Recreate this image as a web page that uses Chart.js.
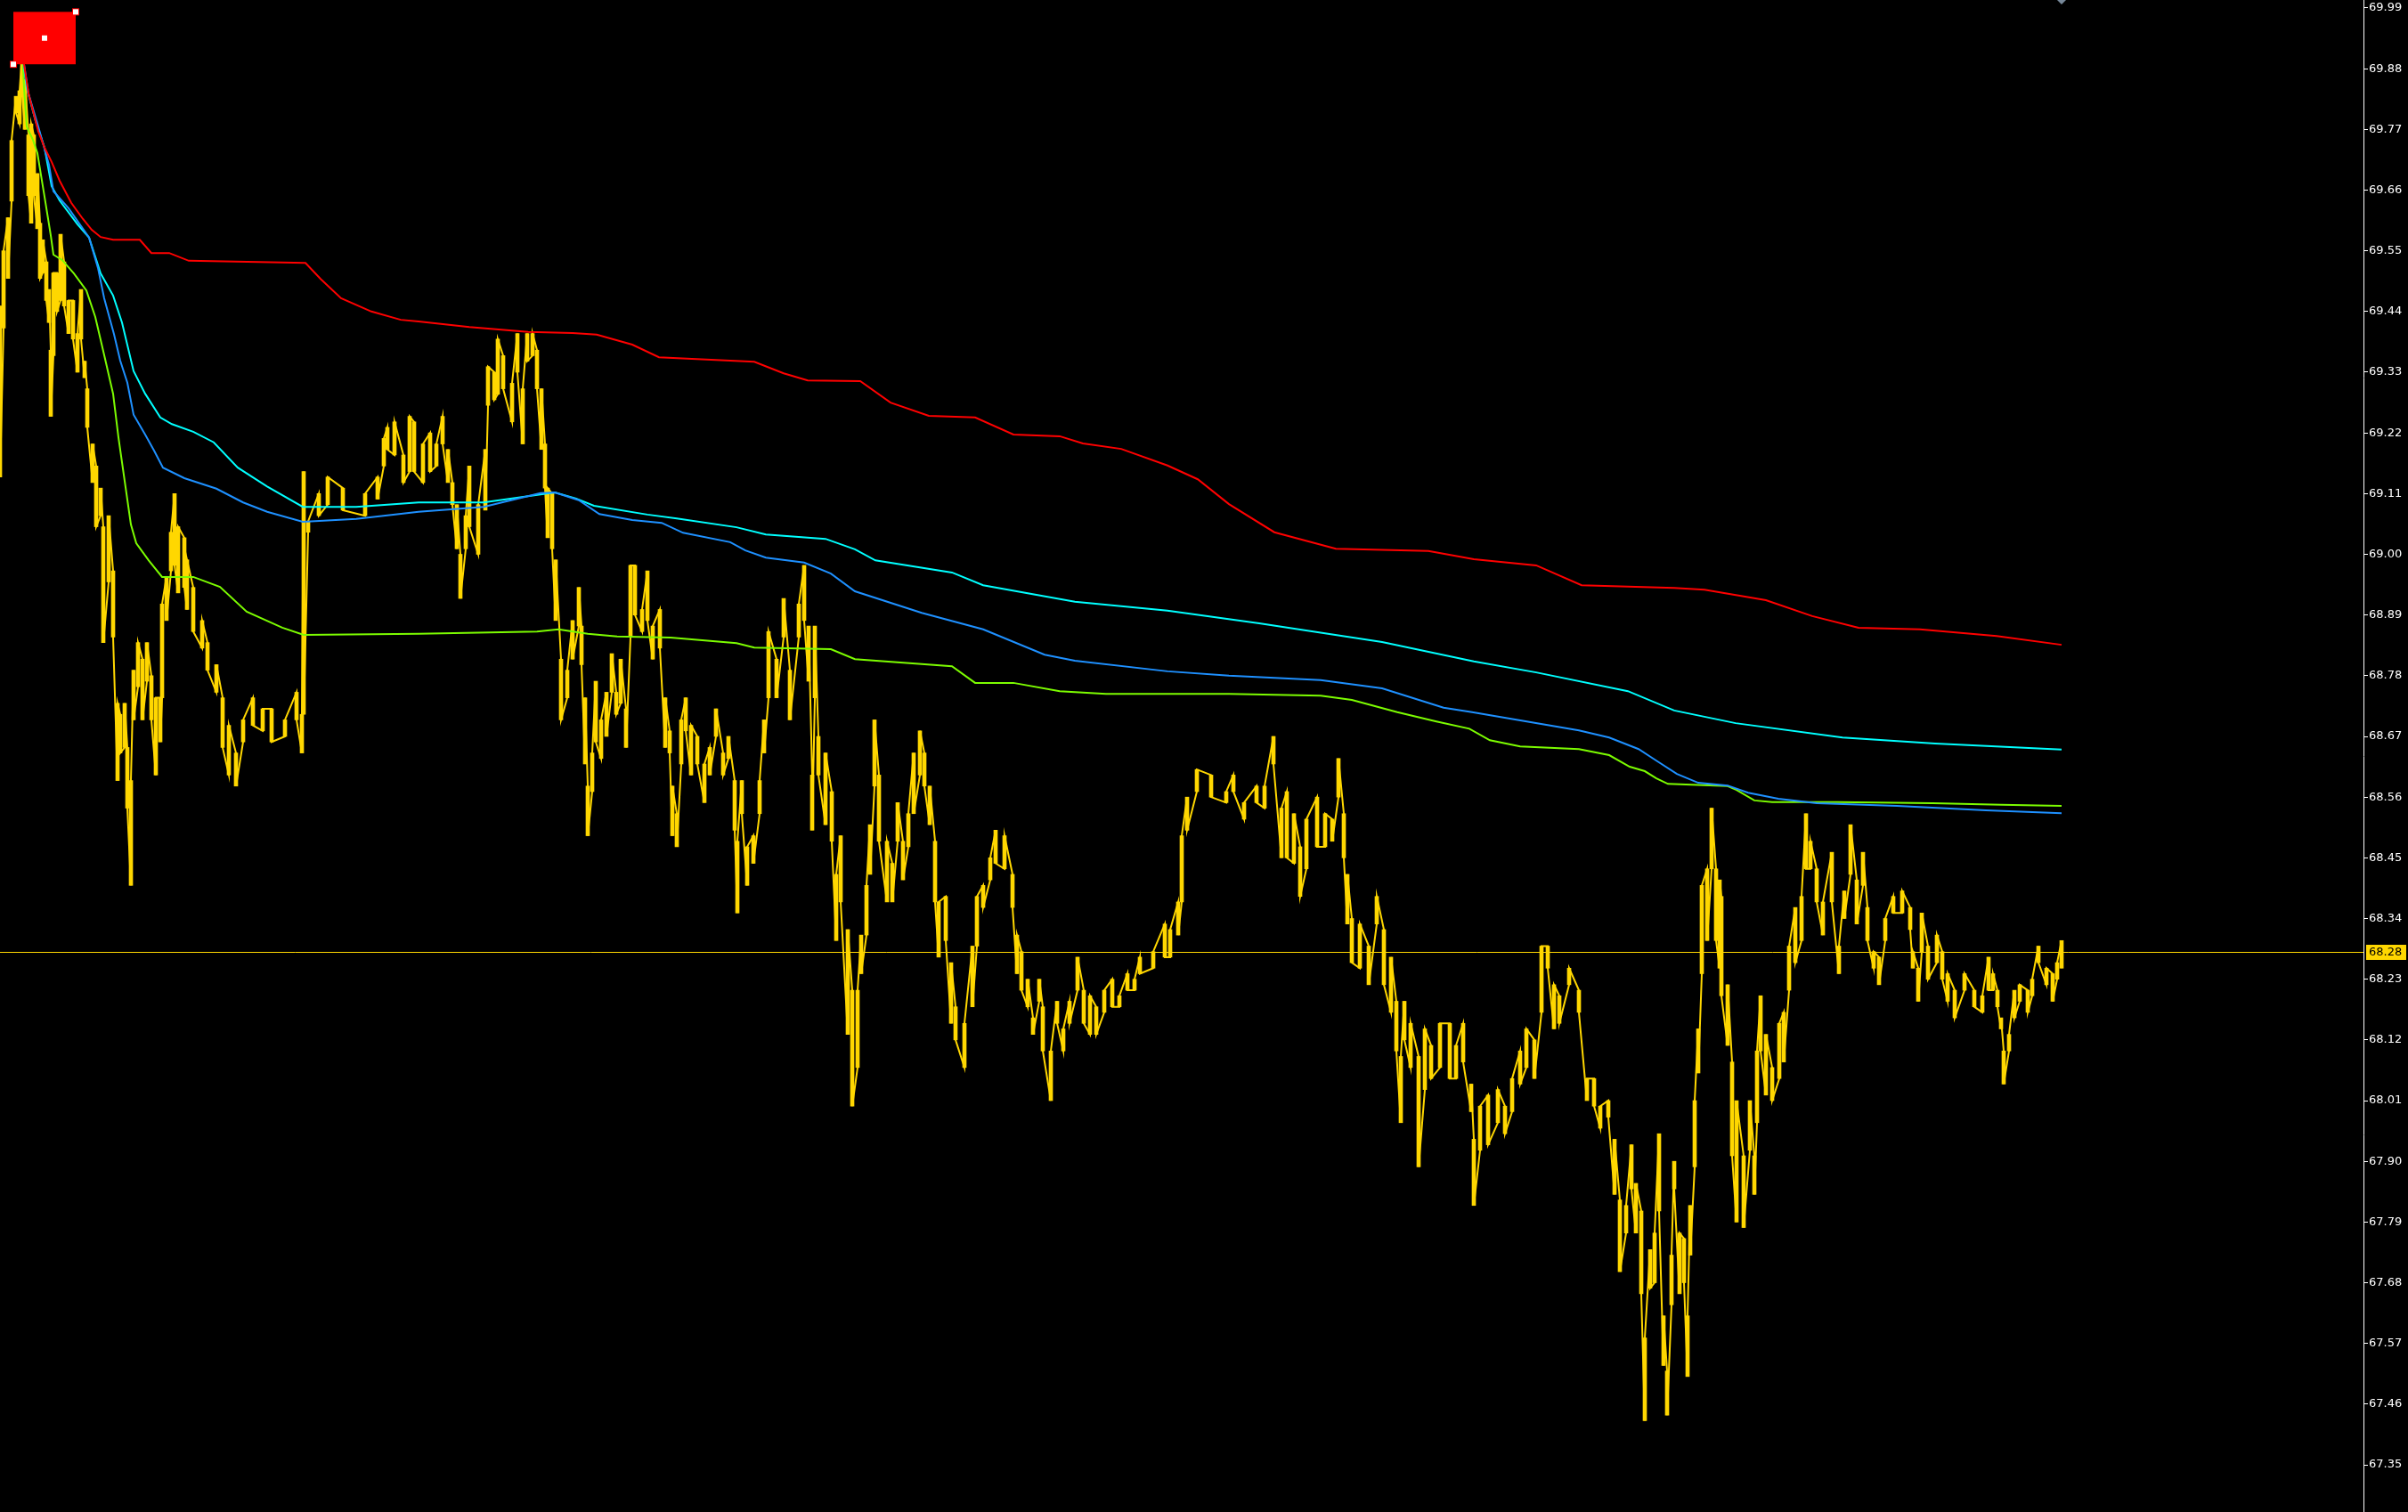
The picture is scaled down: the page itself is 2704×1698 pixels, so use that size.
<!DOCTYPE html>
<html>
<head>
<meta charset="utf-8">
<script src="https://cdn.jsdelivr.net/npm/chart.js@4.4.1/dist/chart.umd.min.js"></script>
<style>
  html, body { margin: 0; padding: 0; background: #000; }
  #wrap { width: 2704px; height: 1698px; position: relative; }
</style>
</head>
<body>
<div id="wrap"><canvas id="myChart"></canvas></div>
<script>
// price bars: [bar number, high, low]
const priceRanges = [
  [0,69.45,69.14],[4,69.55,69.41],[9,69.61,69.50],[13,69.75,69.64],[18,69.83,69.80],[22,69.84,69.78],[25,69.91,69.83],[28,69.86,69.77],[32,69.76,69.65],[35,69.78,69.60],
  [38,69.76,69.65],[42,69.69,69.59],[45,69.60,69.50],[48,69.57,69.51],[52,69.53,69.46],[55,69.48,69.42],[57,69.37,69.25],[60,69.51,69.36],[64,69.51,69.44],[68,69.58,69.46],
  [72,69.53,69.45],[77,69.46,69.40],[82,69.46,69.39],[87,69.40,69.33],[91,69.48,69.39],[95,69.35,69.32],[98,69.30,69.23],[104,69.20,69.13],[108,69.16,69.05],[113,69.12,69.07],
  [116,69.05,68.84],[122,69.07,68.95],[127,68.97,68.85],[132,68.73,68.59],[135,68.71,68.64],[140,68.73,68.65],[143,68.65,68.54],[147,68.59,68.40],[150,68.79,68.70],[155,68.84,68.76],
  [160,68.81,68.70],[165,68.84,68.77],[170,68.78,68.70],[175,68.74,68.60],[180,68.74,68.66],[182,68.91,68.74],[187,68.96,68.88],[192,69.04,68.97],[196,69.11,68.98],[200,69.05,68.93],
  [207,69.03,68.94],[210,68.99,68.90],[217,68.94,68.86],[227,68.88,68.83],[233,68.84,68.79],[243,68.80,68.75],[250,68.74,68.65],[257,68.69,68.60],[265,68.64,68.58],[273,68.70,68.66],
  [284,68.74,68.69],[295,68.72,68.68],[305,68.72,68.66],[320,68.70,68.67],[333,68.75,68.70],[339,68.71,68.64],[341,69.15,68.71],[346,69.06,69.04],[358,69.11,69.07],[368,69.14,69.09],
  [385,69.12,69.08],[410,69.11,69.07],[424,69.14,69.10],[431,69.21,69.16],[435,69.23,69.19],[443,69.24,69.18],[453,69.18,69.13],[460,69.25,69.15],[465,69.24,69.15],[475,69.20,69.13],
  [483,69.22,69.15],[490,69.20,69.16],[497,69.25,69.20],[503,69.19,69.13],[508,69.13,69.09],[513,69.09,69.01],[517,69.00,68.92],[523,69.07,69.01],[527,69.16,69.05],[537,69.09,69.00],
  [545,69.19,69.08],[548,69.34,69.27],[555,69.33,69.28],[559,69.39,69.29],[565,69.36,69.30],[575,69.31,69.24],[581,69.40,69.33],[587,69.30,69.20],[592,69.40,69.35],[598,69.40,69.36],
  [603,69.37,69.30],[608,69.30,69.19],[612,69.20,69.12],[615,69.12,69.03],[620,69.11,69.01],[624,68.99,68.88],[630,68.81,68.70],[637,68.79,68.74],[643,68.88,68.81],[650,68.94,68.87],
  [653,68.87,68.80],[657,68.74,68.62],[660,68.58,68.49],[665,68.64,68.57],[669,68.77,68.66],[675,68.70,68.63],[681,68.75,68.67],[687,68.82,68.75],[692,68.75,68.71],[697,68.81,68.73],
  [703,68.72,68.65],[708,68.98,68.85],[713,68.98,68.89],[721,68.90,68.86],[727,68.97,68.88],[733,68.87,68.81],[741,68.90,68.83],[747,68.74,68.65],[752,68.68,68.64],[755,68.58,68.49],
  [760,68.53,68.47],[765,68.70,68.62],[770,68.74,68.68],[776,68.69,68.60],[783,68.67,68.62],[791,68.62,68.55],[797,68.65,68.60],[804,68.72,68.67],[812,68.64,68.60],[818,68.67,68.63],
  [825,68.59,68.50],[828,68.48,68.35],[833,68.59,68.53],[839,68.47,68.40],[846,68.49,68.44],[853,68.59,68.53],[858,68.70,68.64],[863,68.86,68.74],[872,68.81,68.74],[880,68.92,68.85],
  [887,68.79,68.70],[897,68.91,68.85],[903,68.98,68.88],[908,68.87,68.77],[912,68.60,68.50],[915,68.87,68.74],[919,68.67,68.60],[927,68.64,68.51],[934,68.57,68.48],[939,68.42,68.30],
  [944,68.49,68.37],[952,68.32,68.13],[957,68.21,68.00],[963,68.21,68.07],[967,68.31,68.24],[973,68.40,68.31],[977,68.51,68.42],[982,68.70,68.58],[987,68.60,68.48],[996,68.48,68.37],
  [1002,68.44,68.37],[1008,68.55,68.48],[1014,68.48,68.41],[1020,68.53,68.47],[1026,68.64,68.53],[1033,68.68,68.60],[1038,68.64,68.58],[1044,68.58,68.51],[1050,68.48,68.37],[1054,68.37,68.27],
  [1062,68.38,68.30],[1068,68.26,68.15],[1073,68.18,68.12],[1083,68.15,68.07],[1092,68.29,68.18],[1097,68.38,68.29],[1104,68.40,68.36],[1112,68.45,68.41],[1118,68.50,68.44],[1128,68.49,68.43],
  [1137,68.42,68.36],[1142,68.31,68.24],[1147,68.28,68.21],[1154,68.23,68.18],[1160,68.16,68.13],[1167,68.23,68.19],[1171,68.18,68.10],[1180,68.10,68.01],[1187,68.19,68.15],[1194,68.14,68.10],
  [1201,68.19,68.15],[1210,68.27,68.21],[1217,68.21,68.15],[1224,68.20,68.13],[1231,68.18,68.13],[1240,68.21,68.17],[1249,68.23,68.18],[1257,68.20,68.18],[1266,68.24,68.21],[1274,68.23,68.21],
  [1280,68.27,68.24],[1295,68.28,68.25],[1308,68.33,68.27],[1314,68.32,68.27],[1323,68.37,68.31],[1327,68.49,68.37],[1333,68.56,68.50],[1344,68.61,68.57],[1360,68.60,68.56],[1377,68.57,68.55],
  [1385,68.60,68.57],[1397,68.55,68.52],[1411,68.58,68.55],[1420,68.58,68.54],[1430,68.67,68.62],[1439,68.54,68.45],[1445,68.57,68.45],[1453,68.53,68.44],[1460,68.47,68.38],[1467,68.52,68.43],
  [1479,68.56,68.47],[1488,68.53,68.47],[1496,68.52,68.48],[1503,68.63,68.56],[1509,68.53,68.45],[1513,68.42,68.33],[1518,68.34,68.26],[1527,68.33,68.25],[1537,68.29,68.22],[1546,68.38,68.33],
  [1554,68.32,68.22],[1562,68.27,68.17],[1568,68.19,68.10],[1573,68.09,67.97],[1577,68.19,68.12],[1584,68.15,68.07],[1593,68.09,67.89],[1600,68.14,68.03],[1607,68.11,68.05],[1617,68.15,68.07],
  [1628,68.15,68.05],[1635,68.11,68.05],[1643,68.15,68.08],[1652,68.04,67.99],[1655,67.94,67.82],[1662,68.00,67.92],[1671,68.02,67.93],[1682,68.03,67.97],[1690,68.00,67.95],[1698,68.05,67.99],
  [1707,68.10,68.04],[1714,68.14,68.07],[1723,68.12,68.05],[1731,68.29,68.17],[1738,68.29,68.25],[1745,68.22,68.14],[1751,68.20,68.15],[1762,68.25,68.22],[1773,68.21,68.17],[1782,68.05,68.01],
  [1790,68.05,68.00],[1797,68.00,67.96],[1806,68.01,67.98],[1813,67.94,67.84],[1819,67.83,67.70],[1826,67.82,67.77],[1832,67.93,67.85],[1837,67.86,67.77],[1843,67.81,67.66],[1847,67.58,67.43],
  [1853,67.74,67.67],[1858,67.77,67.68],[1863,67.95,67.81],[1868,67.62,67.53],[1872,67.52,67.44],[1877,67.73,67.64],[1880,67.90,67.85],[1886,67.77,67.66],[1891,67.76,67.68],[1895,67.62,67.51],
  [1898,67.82,67.73],[1903,68.01,67.89],[1907,68.14,68.06],[1911,68.40,68.24],[1917,68.43,68.30],[1922,68.54,68.43],[1927,68.43,68.30],[1931,68.41,68.25],[1933,68.38,68.20],[1940,68.22,68.11],
  [1945,68.08,67.91],[1950,68.01,67.79],[1958,67.91,67.78],[1965,68.01,67.92],[1970,67.91,67.84],[1973,68.10,67.97],[1977,68.20,68.10],[1983,68.13,68.02],[1990,68.07,68.01],[1998,68.15,68.05],
  [2003,68.17,68.08],[2009,68.29,68.21],[2016,68.36,68.26],[2023,68.38,68.30],[2028,68.53,68.43],[2033,68.48,68.43],[2040,68.43,68.37],[2047,68.37,68.31],[2057,68.46,68.37],[2065,68.29,68.24],
  [2071,68.39,68.34],[2078,68.51,68.42],[2085,68.41,68.33],[2092,68.46,68.40],[2097,68.36,68.30],[2104,68.28,68.25],[2110,68.27,68.22],[2117,68.34,68.30],[2126,68.38,68.35],[2136,68.39,68.35],
  [2145,68.36,68.32],[2148,68.28,68.25],[2154,68.25,68.19],[2158,68.35,68.28],[2165,68.29,68.23],[2175,68.31,68.26],[2181,68.28,68.23],[2187,68.24,68.19],[2195,68.21,68.16],[2206,68.24,68.21],
  [2217,68.21,68.18],[2226,68.20,68.17],[2233,68.27,68.21],[2238,68.24,68.21],[2243,68.21,68.18],[2247,68.16,68.14],[2250,68.10,68.04],[2256,68.13,68.10],[2262,68.21,68.16],[2268,68.22,68.19],
  [2277,68.21,68.17],[2282,68.23,68.20],[2289,68.29,68.26],[2298,68.25,68.22],[2305,68.24,68.19],[2310,68.26,68.23],[2315,68.30,68.25]
];

// moving averages: [bar number, value]
const maRed = [
  [25,69.909],[32,69.835],[43,69.766],[50,69.737],[58,69.711],[67,69.677],[80,69.637],[93,69.608],[103,69.588],[113,69.575],
  [127,69.570],[157,69.570],[170,69.546],[190,69.546],[212,69.532],[343,69.528],[360,69.499],[383,69.464],[417,69.440],[450,69.425],
  [470,69.422],[527,69.412],[593,69.403],[643,69.401],[670,69.398],[710,69.380],[740,69.357],[777,69.354],[847,69.349],[880,69.328],
  [907,69.315],[966,69.314],[1000,69.275],[1043,69.251],[1095,69.248],[1138,69.217],[1190,69.214],[1216,69.201],[1259,69.191],[1311,69.161],
  [1345,69.136],[1380,69.091],[1431,69.040],[1500,69.010],[1604,69.006],[1655,68.991],[1725,68.980],[1776,68.944],[1880,68.939],[1914,68.936],
  [1983,68.917],[2035,68.888],[2087,68.867],[2156,68.864],[2242,68.852],[2315,68.836]
];
const maCyan = [
  [25,69.909],[30,69.845],[40,69.785],[50,69.737],[58,69.667],[67,69.641],[87,69.598],[100,69.574],[113,69.509],[127,69.469],
  [137,69.420],[150,69.332],[163,69.291],[180,69.248],[193,69.236],[217,69.222],[240,69.203],[267,69.157],[300,69.123],[340,69.086],
  [400,69.086],[470,69.094],[543,69.094],[623,69.112],[647,69.101],[667,69.088],[727,69.072],[760,69.065],[827,69.049],[860,69.036],
  [927,69.028],[960,69.009],[983,68.989],[1069,68.967],[1104,68.944],[1207,68.914],[1311,68.898],[1414,68.875],[1552,68.841],[1655,68.806],
  [1725,68.786],[1828,68.752],[1880,68.717],[1949,68.694],[2069,68.668],[2173,68.657],[2315,68.646]
];
const maBlue = [
  [25,69.909],[32,69.835],[43,69.775],[55,69.706],[60,69.658],[77,69.627],[100,69.574],[110,69.519],[117,69.464],[128,69.399],
  [135,69.351],[143,69.311],[150,69.253],[163,69.217],[173,69.188],[183,69.157],[207,69.138],[243,69.119],[273,69.094],[300,69.077],
  [340,69.059],[400,69.064],[470,69.077],[543,69.086],[607,69.111],[623,69.112],[650,69.098],[673,69.073],[710,69.062],[743,69.057],
  [767,69.039],[820,69.022],[837,69.007],[860,68.994],[903,68.985],[933,68.965],[960,68.933],[1035,68.894],[1104,68.864],[1173,68.818],
  [1207,68.807],[1311,68.788],[1380,68.780],[1483,68.772],[1552,68.757],[1621,68.722],[1653,68.714],[1773,68.681],[1807,68.668],[1840,68.647],
  [1860,68.626],[1883,68.602],[1907,68.586],[1940,68.581],[1963,68.568],[1997,68.557],[2040,68.549],[2130,68.544],[2230,68.536],[2315,68.531]
];
const maGreen = [
  [25,69.909],[27,69.845],[30,69.775],[37,69.751],[42,69.727],[50,69.648],[57,69.578],[60,69.543],[70,69.533],[83,69.509],
  [97,69.478],[107,69.430],[117,69.361],[127,69.291],[133,69.212],[140,69.133],[147,69.054],[153,69.020],[167,68.989],[182,68.959],
  [217,68.959],[247,68.941],[277,68.896],[317,68.867],[341,68.854],[470,68.856],[603,68.860],[627,68.864],[660,68.856],[693,68.851],
  [753,68.849],[827,68.839],[847,68.831],[933,68.828],[960,68.810],[1069,68.797],[1095,68.767],[1138,68.767],[1190,68.752],[1242,68.747],
  [1380,68.747],[1483,68.744],[1518,68.736],[1569,68.714],[1613,68.697],[1650,68.684],[1673,68.663],[1707,68.652],[1773,68.647],[1807,68.636],
  [1830,68.615],[1847,68.607],[1860,68.594],[1873,68.584],[1940,68.580],[1950,68.573],[1970,68.554],[1990,68.551],[2063,68.551],[2170,68.549],
  [2247,68.546],[2315,68.544]
];

const priceTicks = [69.99, 69.88, 69.77, 69.66, 69.55, 69.44, 69.33, 69.22, 69.11, 69.00, 68.89, 68.78, 68.67,
  68.56, 68.45, 68.34, 68.23, 68.12, 68.01, 67.90, 67.79, 67.68, 67.57, 67.46, 67.35];
const viewMin = 67.2645, viewMax = 70.0045;
const barsShown = 2654;
const lastPrice = 68.28;
const lastBar = 2315;
// chart object: rectangle anchored at bars / prices
const rectObj = { bar0: 15, bar1: 85, p0: 69.983, p1: 69.888 };

// zigzag high/low so every bar shows its range
const pricePath = [];
priceRanges.forEach((r, i) => {
  if (i % 2 === 0) { pricePath.push({ x: r[0], y: r[1] }, { x: r[0], y: r[2] }); }
  else { pricePath.push({ x: r[0], y: r[2] }, { x: r[0], y: r[1] }); }
});
const priceBars = priceRanges.map(r => ({ x: r[0], y: [r[2], r[1]] }));
const toPts = arr => arr.map(p => ({ x: p[0], y: p[1] }));

const overlay = {
  id: 'overlay',
  beforeDatasetsDraw(chart) {
    const c = chart.ctx, y = chart.scales.y, a = chart.chartArea;
    const py = Math.round(y.getPixelForValue(lastPrice)) + 0.5;
    c.save();
    c.strokeStyle = '#FFD700';
    c.lineWidth = 1;
    c.beginPath(); c.moveTo(a.left, py); c.lineTo(a.right, py); c.stroke();
    c.restore();
  },
  afterDraw(chart) {
    const c = chart.ctx, x = chart.scales.x, y = chart.scales.y, a = chart.chartArea;
    c.save();
    // last price label
    const py = Math.round(y.getPixelForValue(lastPrice));
    c.fillStyle = '#FFD700';
    c.fillRect(a.right + 3, py - 8, 45, 17);
    c.fillStyle = '#000';
    c.font = '13px "DejaVu Sans"';
    c.textBaseline = 'middle';
    c.fillText(lastPrice.toFixed(2), a.right + 6, py + 1);
    // rectangle object with selection points
    const rx0 = x.getPixelForValue(rectObj.bar0), rx1 = x.getPixelForValue(rectObj.bar1);
    const ry0 = y.getPixelForValue(rectObj.p0), ry1 = y.getPixelForValue(rectObj.p1);
    c.fillStyle = '#FF0000';
    c.fillRect(rx0, ry0, rx1 - rx0, ry1 - ry0);
    const dot = (cx, cy, border) => {
      if (border) { c.fillStyle = '#FF0000'; c.fillRect(cx - 4, cy - 4, 8, 8); }
      c.fillStyle = '#FFFFFF'; c.fillRect(cx - 3, cy - 3, 6, 6);
    };
    dot((rx0 + rx1) / 2, (ry0 + ry1) / 2, false);
    dot(rx1, ry0, true);
    dot(rx0, ry1, true);
    // shift marker at last bar
    const mx = x.getPixelForValue(lastBar);
    c.fillStyle = '#778899';
    c.beginPath(); c.moveTo(mx - 5, a.top); c.lineTo(mx + 5, a.top); c.lineTo(mx, a.top + 5); c.closePath(); c.fill();
    c.restore();
  }
};

const ctx = document.getElementById('myChart').getContext('2d');
const myChart = new Chart(ctx, {
  type: 'line',
  data: {
    datasets: [{
      label: 'MA red',
      data: toPts(maRed),
      borderColor: '#FF0000',
      borderWidth: 2,
      order: 1
    }, {
      label: 'MA blue',
      data: toPts(maBlue),
      borderColor: '#1E90FF',
      borderWidth: 2,
      order: 2
    }, {
      label: 'MA cyan',
      data: toPts(maCyan),
      borderColor: '#00FFFF',
      borderWidth: 2,
      order: 3
    }, {
      label: 'MA green',
      data: toPts(maGreen),
      borderColor: '#7CFC00',
      borderWidth: 2,
      order: 4
    }, {
      label: 'Price',
      data: pricePath,
      borderColor: '#FFD700',
      borderWidth: 2,
      order: 5
    }, {
      type: 'bar',
      label: 'Price range',
      data: priceBars,
      backgroundColor: '#FFD700',
      borderWidth: 0,
      barThickness: 4,
      grouped: false,
      order: 6
    }]
  },
  options: {
    responsive: true,
    maintainAspectRatio: false,
    animation: false,
    layout: { padding: 0 },
    elements: { point: { radius: 0 }, line: { tension: 0 } },
    plugins: { legend: { display: false }, tooltip: { enabled: false } },
    scales: {
      x: { type: 'linear', min: 0, max: barsShown, display: false, offset: false },
      y: {
        position: 'right',
        min: viewMin,
        max: viewMax,
        afterBuildTicks: s => { s.ticks = priceTicks.map(v => ({ value: v })); },
        afterFit: s => { s.width = 50; s.paddingTop = 0; s.paddingBottom = 0; },
        ticks: {
          color: '#FFFFFF',
          font: { family: 'DejaVu Sans', size: 13 },
          padding: 1,
          autoSkip: false,
          callback: v => v.toFixed(2)
        },
        grid: { drawOnChartArea: false, color: '#FFFFFF', tickLength: 5 },
        border: { color: '#FFFFFF', width: 1 }
      }
    }
  },
  plugins: [overlay]
});
</script>
</body>
</html>
